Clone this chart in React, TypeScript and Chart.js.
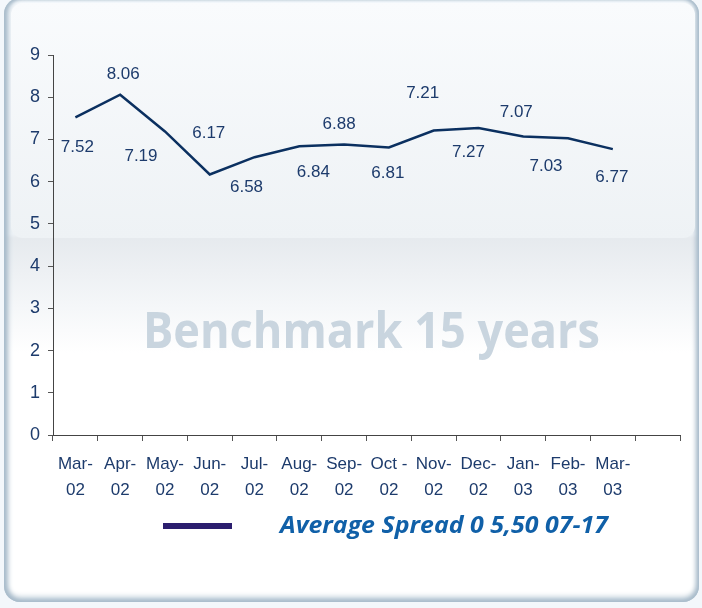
import { useEffect, useRef } from "react";
import { Chart, registerables } from "chart.js";

Chart.register(...registerables);

const categories: (string | string[])[] = [
  ["Mar-", "02"], ["Apr-", "02"], ["May-", "02"], ["Jun-", "02"], ["Jul-", "02"],
  ["Aug-", "02"], ["Sep-", "02"], ["Oct -", "02"], ["Nov-", "02"], ["Dec-", "02"],
  ["Jan-", "03"], ["Feb-", "03"], ["Mar-", "03"], "",
];
const spreadValues = [7.52, 8.06, 7.19, 6.17, 6.58, 6.84, 6.88, 6.81, 7.21, 7.27, 7.07, 7.03, 6.77];
const yMin = 0;
const yMax = 9;
const yStep = 1;
const seriesLabel = "Average Spread 0 5,50 07-17";
const watermarkText = "Benchmark 15 years";
// label offset (dx, dy) relative to each point, as placed in the original
const labelOffsets: [number, number][] = [
  [2, 30], [3, -20], [-24, 25], [-1, -41], [-8, 30], [14, 26], [-5, -20],
  [-1, 26], [-11, -37], [-10, 24], [-7, -24], [-22, 28], [-1, 28],
];

const ARIAL = "'Liberation Sans', Arial, sans-serif";
const TEXT_COLOR = "#1d3b6c";

const decorPlugin = {
  id: "decor",
  beforeDatasetsDraw(chart: any) {
    const ctx = chart.ctx as CanvasRenderingContext2D;
    ctx.save();
    ctx.font = "bold 50px 'Open Sans', 'Noto Sans', sans-serif";
    ctx.fillStyle = "#c9d5df";
    ctx.textBaseline = "alphabetic";
    ctx.textAlign = "left";
    const w = ctx.measureText(watermarkText).width;
    const target = 457;
    ctx.translate(143, 348);
    ctx.scale(target / w, 1);
    ctx.fillText(watermarkText, 0, 0);
    ctx.restore();
  },
  afterDatasetsDraw(chart: any) {
    const ctx = chart.ctx as CanvasRenderingContext2D;
    const meta = chart.getDatasetMeta(0);
    ctx.save();
    ctx.font = `17px ${ARIAL}`;
    ctx.fillStyle = TEXT_COLOR;
    ctx.textAlign = "center";
    ctx.textBaseline = "middle";
    meta.data.forEach((pt: any, i: number) => {
      const v = spreadValues[i];
      if (v === undefined) return;
      const [dx, dy] = labelOffsets[i] || [0, -20];
      ctx.fillText(v.toFixed(2), pt.x + dx, pt.y + dy);
    });
    ctx.restore();

    // legend
    ctx.save();
    ctx.fillStyle = "#2b1e6e";
    ctx.fillRect(163, 523, 69, 6);
    ctx.font = "italic bold 23px 'Open Sans', 'Noto Sans', sans-serif";
    ctx.fillStyle = "#1060a8";
    ctx.textAlign = "left";
    ctx.textBaseline = "alphabetic";
    const lw = ctx.measureText(seriesLabel).width;
    ctx.translate(280, 533);
    ctx.scale(328 / lw, 1);
    ctx.fillText(seriesLabel, 0, 0);
    ctx.restore();
  },
};

export default function App() {
  const canvasRef = useRef<HTMLCanvasElement | null>(null);

  useEffect(() => {
    if (!canvasRef.current) return;
    const chart = new Chart(canvasRef.current, {
      type: "line",
      data: {
        labels: categories,
        datasets: [
          {
            label: seriesLabel,
            data: spreadValues,
            borderColor: "#0b3060",
            borderWidth: 2.5,
            pointRadius: 0,
            tension: 0,
            fill: false,
          },
        ],
      },
      options: {
        animation: false,
        responsive: false,
        devicePixelRatio: 1,
        layout: { padding: { left: 0, right: 22, top: 55, bottom: 0 } },
        plugins: {
          legend: { display: false },
          tooltip: { enabled: false },
        },
        scales: {
          x: {
            offset: true,
            afterFit: (s: any) => { s.height = 608 - 435; },
            grid: {
              offset: true,
              drawOnChartArea: false,
              drawTicks: true,
              tickLength: 6,
              color: "#555",
            },
            border: { display: true, color: "#444", width: 1 },
            ticks: {
              autoSkip: false,
              maxRotation: 0,
              padding: 11,
              color: TEXT_COLOR,
              font: { family: ARIAL, size: 17, lineHeight: 1.5 },
            },
          },
          y: {
            min: yMin,
            max: yMax,
            afterFit: (s: any) => { s.width = 53; },
            grid: {
              drawOnChartArea: false,
              drawTicks: true,
              tickLength: 5,
              color: "#555",
            },
            border: { display: true, color: "#444", width: 1 },
            ticks: {
              stepSize: yStep,
              padding: 8,
              color: TEXT_COLOR,
              font: { family: ARIAL, size: 18 },
            },
          },
        },
      },
      plugins: [decorPlugin],
    });
    return () => chart.destroy();
  }, []);

  return (
    <div style={{ position: "absolute", left: 0, top: 0, width: 702, height: 608, background: "#f3f7fb", overflow: "hidden" }}>
      <div
        style={{
          position: "absolute",
          left: 4,
          top: -2,
          width: 695,
          height: 604,
          borderRadius: 16,
          background: "linear-gradient(to bottom, #f6f9fc 0px, #eef2f6 236px, #e6eaee 240px, #f5f7f9 310px, #ffffff 355px, #ffffff 604px)",
          boxShadow: "inset 5px 0 5px -1px #a9bccb, inset -4px 0 5px -1px #a9bccb, inset 0 -5px 6px -1px #a3b7c7, inset 0 2px 3px #b8c8d5",
        }}
      />
      <div
        style={{
          position: "absolute",
          left: 11,
          top: 3,
          width: 684,
          height: 235,
          borderRadius: 12,
          background: "linear-gradient(to bottom, #f9fbfd, #eef2f5)",
        }}
      />
      <canvas ref={canvasRef} width={702} height={608} style={{ position: "absolute", left: 0, top: 0 }} />
    </div>
  );
}
